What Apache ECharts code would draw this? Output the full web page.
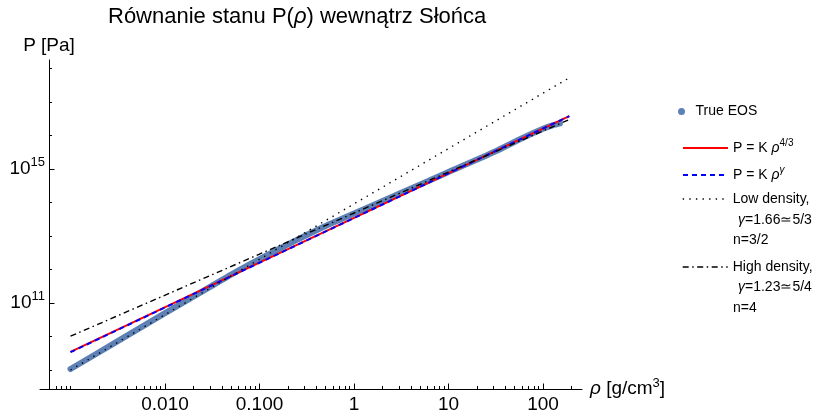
<!DOCTYPE html>
<html>
<head>
<meta charset="utf-8">
<script src="https://cdn.jsdelivr.net/npm/echarts@6/dist/echarts.min.js"></script>
<style>
  html, body { margin: 0; padding: 0; background: #fff; }
  #chart { width: 818px; height: 414px; }
</style>
</head>
<body>
<div id="chart"></div>
<script>
// Solar model: density [g/cm^3] and pressure [Pa]
const trueRho = [0.001, 0.00316, 0.01, 0.0316, 0.0501, 0.0794, 0.126, 0.2, 0.316, 0.501, 1, 3.16, 10, 31.6, 56.2, 100, 126, 151];
const trueP   = [1.07e9, 7.24e9, 5.01e10, 3.31e11, 7.08e11, 1.45e12, 2.88e12, 5.62e12, 1.07e13, 1.99e13, 4.68e13, 1.95e14, 8.13e14, 3.39e15, 7.59e15, 1.58e16, 2.00e16, 2.29e16];

// Power-law (polytrope) lines: end points in density and pressure
const lineRho   = [0.001, 190];
const pK43      = [3.47e9, 3.8e16];
const pKGamma   = [3.40e9, 3.8e16];
const pLowDens  = [1.0e9, 5.3e17];
const pHighDens = [1.02e10, 3.0e16];

// Axis ticks
const xMajor = [0.01, 0.1, 1, 10, 100];
const xMajorLabels = ['0.010', '0.100', '1', '10', '100'];
const xMinorDecades = [0.0001, 0.001, 0.01, 0.1, 1, 10, 100];
const yMajor = [1e11, 1e15];
const yMajorExp = ['11', '15'];
const yMinor = [1e9, 1e10, 1e12, 1e13, 1e14, 1e16, 1e17, 1e18];

const xMin = 4.754e-4, xMax = 258.6;
const yMin = 2.71e8, yMax = 1.795e18;

const FONT = '"Liberation Sans", Arial, sans-serif';

const xMinor = [];
xMinorDecades.forEach(d => {
  for (let k = 1; k <= 9; k++) {
    const v = +(k * d).toPrecision(3);
    if (v >= 0.0006 && v <= 200 && xMajor.indexOf(v) < 0) xMinor.push(v);
  }
});

const pairs = (xs, ys) => xs.map((x, i) => [x, ys[i]]);
const nearest = (arr, v) => {
  let best = 0;
  arr.forEach((a, i) => { if (Math.abs(Math.log10(a) - Math.log10(v)) < Math.abs(Math.log10(arr[best]) - Math.log10(v))) best = i; });
  return best;
};

const legendRich = {
  t: { fontSize: 14, fontFamily: FONT, color: '#000' },
  i: { fontSize: 14, fontFamily: FONT, fontStyle: 'italic', color: '#000' },
  s: { fontSize: 10, fontFamily: FONT, color: '#000', padding: [0, 0, 10, 0] },
  si: { fontSize: 10, fontFamily: FONT, fontStyle: 'italic', color: '#000', padding: [0, 0, 10, 0] }
};
const legendBase = {
  orient: 'vertical', padding: 0, itemGap: 0, selectedMode: false,
  textStyle: { fontFamily: FONT, fontSize: 14, color: '#000', rich: legendRich },
  lineStyle: { width: 'inherit' },
  itemStyle: { opacity: 0 }
};
const labelMap = {
  'True EOS': 'True EOS',
  'P = K ρ^4/3': '{t|P = K }{i|ρ}{s|4/3}',
  'P = K ρ^γ': '{t|P = K }{i|ρ}{si|γ}',
  'Low density,': 'Low density,',
  'High density,': 'High density,'
};
const fmt = name => labelMap[name];

const chart = echarts.init(document.getElementById('chart'), null, { renderer: 'canvas' });

chart.setOption({
  animation: false,
  backgroundColor: '#fff',
  title: {
    text: 'Równanie stanu P({i|ρ}) wewnątrz Słońca',
    left: 108, top: 6, padding: 0,
    textStyle: {
      fontFamily: FONT, fontSize: 22, fontWeight: 'normal', color: '#000',
      rich: { i: { fontFamily: FONT, fontSize: 22, fontStyle: 'italic', color: '#000' } }
    }
  },
  grid: { left: 40, right: 236, top: 60, bottom: 25, containLabel: false },
  xAxis: [
    {
      type: 'log', min: xMin, max: xMax, position: 'bottom',
      name: '{i|ρ}{t| [g/cm}{s|3}{t|]}', nameLocation: 'end', nameGap: 8,
      nameTextStyle: {
        fontFamily: FONT, fontSize: 19, color: '#000',
        rich: {
          i: { fontFamily: FONT, fontSize: 19, fontStyle: 'italic', color: '#000' },
          t: { fontFamily: FONT, fontSize: 19, color: '#000' },
          s: { fontFamily: FONT, fontSize: 13, color: '#000', padding: [0, 0, 12, 0] }
        }
      },
      axisLine: { show: true, lineStyle: { color: '#000', width: 1 } },
      axisTick: { show: true, inside: true, length: 5.5, lineStyle: { color: '#000', width: 1 }, customValues: xMajor },
      axisLabel: {
        show: true, margin: 6, customValues: xMajor,
        fontFamily: FONT, fontSize: 19, color: '#000',
        formatter: v => xMajorLabels[nearest(xMajor, v)]
      },
      minorTick: { show: false }, splitLine: { show: false }
    },
    {
      type: 'log', min: xMin, max: xMax, position: 'bottom',
      axisLine: { show: false },
      axisTick: { show: true, inside: true, length: 3, lineStyle: { color: '#000', width: 1 }, customValues: xMinor },
      axisLabel: { show: false },
      splitLine: { show: false }
    }
  ],
  yAxis: [
    {
      type: 'log', min: yMin, max: yMax, position: 'left', offset: -9,
      name: 'P [Pa]', nameLocation: 'end', nameGap: 14,
      nameTextStyle: { fontFamily: FONT, fontSize: 19, color: '#000', align: 'center', verticalAlign: 'middle' },
      axisLine: { show: true, lineStyle: { color: '#000', width: 1 } },
      axisTick: { show: true, inside: true, length: 5.5, lineStyle: { color: '#000', width: 1 }, customValues: yMajor },
      axisLabel: {
        show: true, margin: 4, customValues: yMajor,
        formatter: v => '{b|10}{s|' + yMajorExp[nearest(yMajor, v)] + '}',
        rich: {
          b: { fontFamily: FONT, fontSize: 19, color: '#000' },
          s: { fontFamily: FONT, fontSize: 13, color: '#000', padding: [0, 0, 13, 0] }
        }
      },
      splitLine: { show: false }
    },
    {
      type: 'log', min: yMin, max: yMax, position: 'left', offset: -9,
      axisLine: { show: false },
      axisTick: { show: true, inside: true, length: 3, lineStyle: { color: '#000', width: 1 }, customValues: yMinor },
      axisLabel: { show: false },
      splitLine: { show: false }
    }
  ],
  legend: [
    Object.assign({}, legendBase, {
      data: [{ name: 'True EOS', icon: 'circle' }], left: 678, top: 104.5, itemWidth: 18, itemHeight: 7,
      itemStyle: { opacity: 1 }, formatter: fmt
    }),
    Object.assign({}, legendBase, { data: ['P = K ρ^4/3'], left: 682, top: 138, itemWidth: 45, itemHeight: 14, formatter: fmt }),
    Object.assign({}, legendBase, { data: ['P = K ρ^γ'], left: 682, top: 165, itemWidth: 45, itemHeight: 14, formatter: fmt }),
    Object.assign({}, legendBase, { data: ['Low density,'], left: 682, top: 192, itemWidth: 45, itemHeight: 14, formatter: fmt }),
    Object.assign({}, legendBase, { data: ['High density,'], left: 682, top: 260, itemWidth: 45, itemHeight: 14, formatter: fmt })
  ],
  graphic: [
    { type: 'text', x: 738, y: 220, style: { text: '{i|γ}{t|=1.66≃5/3}', rich: legendRich, verticalAlign: 'middle', fontFamily: FONT, fontSize: 14 } },
    { type: 'text', x: 733, y: 240, style: { text: 'n=3/2', fill: '#000', verticalAlign: 'middle', fontFamily: FONT, fontSize: 14 } },
    { type: 'text', x: 738, y: 287, style: { text: '{i|γ}{t|=1.23≃5/4}', rich: legendRich, verticalAlign: 'middle', fontFamily: FONT, fontSize: 14 } },
    { type: 'text', x: 733, y: 308, style: { text: 'n=4', fill: '#000', verticalAlign: 'middle', fontFamily: FONT, fontSize: 14 } }
  ],
  series: [
    {
      name: 'True EOS', type: 'line', xAxisIndex: 0, yAxisIndex: 0,
      data: pairs(trueRho, trueP), symbol: 'none', smooth: 0.25,
      lineStyle: { color: '#5E81B5', width: 6, cap: 'round', join: 'round' },
      itemStyle: { color: '#5E81B5' }, z: 1
    },
    {
      name: 'P = K ρ^4/3', type: 'line', data: pairs(lineRho, pK43), symbol: 'none',
      lineStyle: { color: '#FF0000', width: 2 }, itemStyle: { color: '#FF0000' }, z: 2
    },
    {
      name: 'P = K ρ^γ', type: 'line', data: pairs(lineRho, pKGamma), symbol: 'none',
      lineStyle: { color: '#0000FF', width: 2, type: [5, 4] }, itemStyle: { color: '#0000FF' }, z: 3
    },
    {
      name: 'Low density,', type: 'line', data: pairs(lineRho, pLowDens), symbol: 'none',
      lineStyle: { color: '#000', width: 1.4, type: [1.4, 5.2] }, itemStyle: { color: '#000' }, z: 4
    },
    {
      name: 'High density,', type: 'line', data: pairs(lineRho, pHighDens), symbol: 'none',
      lineStyle: { color: '#000', width: 1.4, type: [6, 3.5, 1.5, 3.5] }, itemStyle: { color: '#000' }, z: 5
    }
  ]
});
</script>
</body>
</html>
